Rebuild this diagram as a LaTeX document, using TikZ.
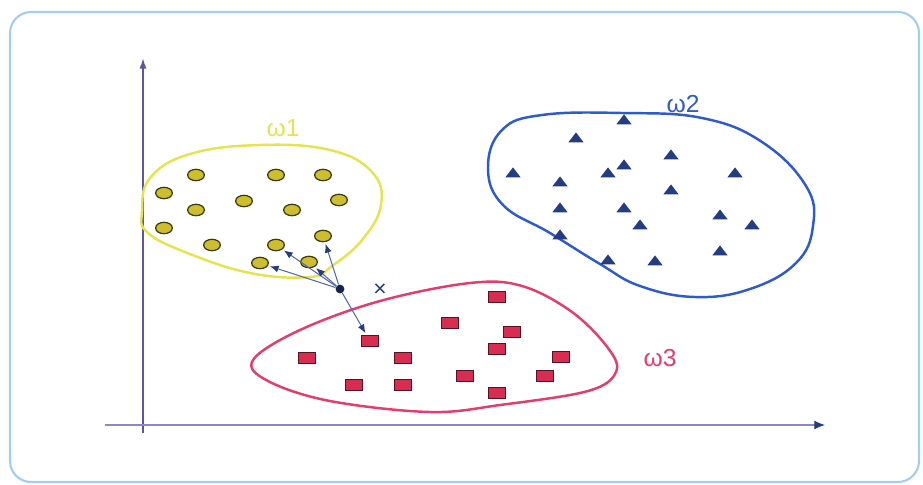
\documentclass[tikz,border=0pt]{standalone}
\usepackage{fontspec}
\setmainfont{Liberation Sans}
\usetikzlibrary{arrows.meta}

\definecolor{frameblue}{RGB}{160,205,240}
\definecolor{axiscol}{RGB}{95,85,165}
\definecolor{yelline}{RGB}{228,228,80}
\definecolor{yeldot}{RGB}{205,190,45}
\definecolor{blueline}{RGB}{45,90,205}
\definecolor{bluetri}{RGB}{35,60,130}
\definecolor{redline}{RGB}{230,60,105}
\definecolor{redsq}{RGB}{215,45,80}
\definecolor{linkcol}{RGB}{85,105,175}

\tikzset{
    dotA/.style={ellipse,draw=black!70!yeldot,fill=yeldot,line width=.7pt,
                 minimum width=9.5pt,minimum height=6.5pt,inner sep=0pt},
    triB/.style={regular polygon,regular polygon sides=3,fill=bluetri,
                 inner sep=0pt,minimum size=10pt,yscale=.75},
    sqC/.style={rectangle,draw=black!60!redsq,fill=redsq,line width=.7pt,
                minimum width=9.5pt,minimum height=6.5pt,inner sep=0pt},
    link/.style={linkcol,line width=.6pt,-{Latex[length=5pt,width=4pt,color=bluetri]},shorten >=1pt},
    classlab/.style={font=\fontsize{14}{16}\selectfont}
}
\usetikzlibrary{shapes.geometric}

\begin{document}
\begin{tikzpicture}[x=0.02cm,y=-0.02cm]
    \useasboundingbox (0,0) rectangle (923,484);
    % frame
    \draw[frameblue,line width=1.2pt,rounded corners=12pt] (10,12) rectangle (919,482);

    % axes
    \draw[axiscol,line width=.9pt,-{Latex[length=6pt,width=4pt]}] (143,433) -- (143,58);
    \draw[axiscol!70,line width=.6pt,-{Latex[length=6pt,width=5pt,color=bluetri]}] (105,425) -- (825,425);

    % class regions
    \draw[yelline,line width=1.4pt] plot[smooth cycle,tension=.7] coordinates
        {(142,212) (150,178) (190,154) (260,145) (330,150) (372,172) (381,205)
         (362,240) (332,266) (310,277) (250,273) (185,252) (147,232)};
    \draw[blueline,line width=1.4pt] plot[smooth cycle,tension=.7] coordinates
        {(488,168) (502,130) (542,115) (622,113) (702,118) (762,142) (806,186)
         (813,226) (796,263) (750,289) (695,297) (640,286) (600,264) (550,233) (503,205)};
    \draw[redline,line width=1.4pt] plot[smooth cycle,tension=.6] coordinates
        {(253,360) (300,330) (380,301) (470,283) (522,286) (572,312) (608,348)
         (616,372) (588,391) (500,405) (430,412) (330,401) (268,381)};

    % class members
    \foreach \p [count=\i] in {(196,175),(276,175),(323,175),(164,193),(244,201),
            (339,200),(196,210),(292,210),(164,228),(212,245),(276,245),(323,236),
            (260,263),(309,262)}
        \node[dotA] (a\i) at \p {};
    \foreach \p [count=\i] in {(624,121),(576,139),(671,156),(624,166),(608,174),
            (513,174),(560,183),(735,174),(671,191),(560,209),(624,209),(640,226),
            (720,216),(752,226),(560,236),(720,252),(608,261),(655,262)}
        \node[triB] (b\i) at \p {};
    \foreach \p [count=\i] in {(497,297),(450,323),(512,332),(370,341),(497,349),
            (307,358),(403,358),(561,357),(465,376),(545,376),(354,385),(403,385),
            (497,393)}
        \node[sqC] (c\i) at \p {};

    % labels
    \node[classlab,yelline] (lab1) at (283,128) {ω1};
    \node[classlab,blueline] (lab2) at (683,104) {ω2};
    \node[classlab,redline] (lab3) at (660,358) {ω3};

    % query point and its nearest neighbours
    \node[circle,fill=bluetri!60!black,inner sep=0pt,minimum size=5pt] (xq) at (340,289) {};
    \node[bluetri,font=\fontsize{13}{15}\selectfont] (xlab) at (380,290) {×};
    \draw[link] (xq) -- (a12);
    \draw[link] (xq) -- (a11);
    \draw[link] (xq) -- (a13);
    \draw[link] (xq) -- (a14);
    \draw[link] (xq) -- (c4);
\end{tikzpicture}
\end{document}
